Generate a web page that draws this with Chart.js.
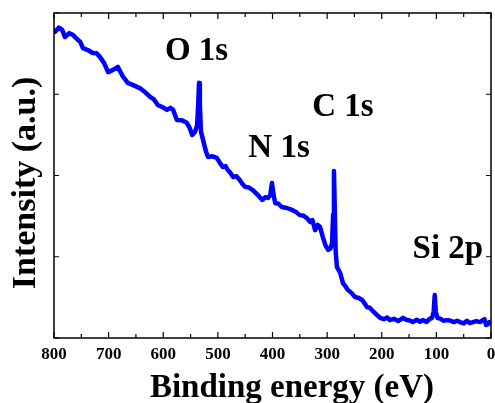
<!DOCTYPE html>
<html>
<head>
<meta charset="utf-8">
<script src="https://cdn.jsdelivr.net/npm/chart.js@4"></script>
<style>
  html, body { margin: 0; padding: 0; background: #fff; }
  #wrap { width: 495px; height: 403px; }
</style>
</head>
<body>
<div id="wrap"><canvas id="c"></canvas></div>
<script>
// ========== DATA (XPS survey) ==========
const energy = [
  800, 798, 791, 785, 780, 772, 765, 758, 752, 747, 738, 729, 722, 716, 708, 701,
  692, 683, 674, 665, 655, 643, 633, 624, 617, 610, 601, 593, 587, 582, 575, 566,
  557, 552, 547, 542, 538, 536, 534.5, 533, 531, 527, 522, 518, 510, 502, 496, 491,
  486, 482, 477, 472, 466, 460, 455, 450, 443, 436, 428, 419, 413, 408, 404, 401,
  398, 395, 389, 383, 374, 364, 357, 350, 343, 337, 331, 327, 322, 317, 313, 308,
  303, 298, 294, 291, 289, 287.5, 286, 284.5, 282, 276, 271, 266, 262, 255, 249, 242,
  236, 231, 227, 222, 218, 210, 203, 196, 190, 185, 178, 170, 161, 155, 149, 143,
  136, 130, 125, 118, 113, 108, 105, 103, 101, 98, 92, 87, 81, 75, 68, 62,
  57, 50, 44, 39, 33, 27, 20, 15, 12, 9, 6, 3, 0
];
const intensity = [
  94.5, 94.2, 95.5, 94.8, 92.6, 93.8, 93.2, 92.0, 91.1, 89.2, 88.6, 87.7, 87.6, 86.5, 84.5, 81.8,
  82.5, 83.4, 80.5, 78.5, 77.8, 76.9, 75.6, 74.2, 73.4, 71.7, 71.0, 70.2, 70.8, 70.2, 67.1, 67.0,
  66.2, 64.8, 62.5, 63.4, 65.5, 72, 78.5, 72, 63.5, 60.9, 57.5, 55.7, 55.9, 55.4, 53.8, 52.6,
  52.9, 51.7, 50.8, 49.5, 49.8, 48.6, 47.4, 46.5, 46.3, 45.5, 44.2, 42.5, 43.3, 43.1, 44, 47.7,
  44, 41.5, 41.3, 40.3, 40.0, 39.4, 38.8, 37.8, 37.6, 36.9, 35.7, 36.3, 33.2, 34.8, 34.2, 31.1,
  28.5, 27.1, 27.5, 29.2, 38, 51.4, 40, 27, 21.8, 20.0, 16.9, 15.8, 14.8, 13.8, 12.6, 12.3,
  11.7, 10.6, 9.5, 9.3, 8.6, 7.3, 6.2, 5.8, 6.3, 5.5, 5.9, 5.2, 6.2, 5.6, 5.4, 4.9,
  5.6, 5.0, 5.5, 4.9, 5.8, 6.2, 8, 13.2, 8, 6.2, 5.9, 5.3, 5.5, 5.4, 4.9, 5.3,
  4.9, 4.5, 5.3, 4.6, 4.9, 5.2, 4.9, 5.5, 5.8, 4.0, 4.2, 4.9, 4.6
];

// peak labels, anchored in data units (centre x, baseline y)
const peakNames = ['O 1s', 'C 1s', 'N 1s', 'Si 2p'];
const peakLabelX = [539, 271, 388, 79];
const peakLabelY = [85.5, 68.3, 55.7, 24.6];

const X_TITLE = 'Binding energy (eV)';
const Y_TITLE = 'Intensity (a.u.)';
const SERIF = '"Liberation Serif", "Times New Roman", serif';

// frame, inward ticks, labels and axis titles
const decorPlugin = {
  id: 'decor',
  afterDraw(chart) {
    const { ctx, chartArea: a, scales } = chart;
    const xs = scales.x, ys = scales.y;
    ctx.save();
    ctx.strokeStyle = '#000';
    ctx.lineWidth = 1.5;
    ctx.strokeRect(a.left, a.top, a.right - a.left, a.bottom - a.top);

    ctx.lineWidth = 1.2;
    ctx.beginPath();
    xs.ticks.forEach(t => {
      const px = xs.getPixelForValue(t.value);
      const len = t.value % 100 === 0 ? 6 : 4;
      ctx.moveTo(px, a.bottom); ctx.lineTo(px, a.bottom - len);
      ctx.moveTo(px, a.top); ctx.lineTo(px, a.top + len);
    });
    ys.ticks.forEach(t => {
      const py = ys.getPixelForValue(t.value);
      ctx.moveTo(a.left, py); ctx.lineTo(a.left + 5, py);
      ctx.moveTo(a.right, py); ctx.lineTo(a.right - 5, py);
    });
    ctx.stroke();

    ctx.fillStyle = '#000';
    ctx.font = 'bold 33px ' + SERIF;
    ctx.textAlign = 'center';
    ctx.textBaseline = 'alphabetic';
    peakNames.forEach((name, i) => {
      ctx.fillText(name, xs.getPixelForValue(peakLabelX[i]), ys.getPixelForValue(peakLabelY[i]));
    });

    ctx.fillText(X_TITLE, 292, 397);

    ctx.font = 'bold 34px ' + SERIF;
    ctx.translate(35, 183);
    ctx.rotate(-Math.PI / 2);
    ctx.fillText(Y_TITLE, 0, 0);
    ctx.restore();
  }
};

new Chart(document.getElementById('c'), {
  type: 'line',
  data: {
    datasets: [{
      data: energy.map((e, i) => ({ x: e, y: intensity[i] })),
      borderColor: '#0000ff',
      borderWidth: 4.5,
      borderJoinStyle: 'round',
      borderCapStyle: 'round',
      pointRadius: 0,
      tension: 0,
      fill: false,
    }],
  },
  options: {
    responsive: true,
    maintainAspectRatio: false,
    animation: false,
    layout: { padding: { top: 13, right: 4, left: 0, bottom: 0 } },
    plugins: { legend: { display: false }, tooltip: { enabled: false } },
    scales: {
      x: {
        type: 'linear',
        reverse: true,
        min: 0,
        max: 800,
        afterFit: s => { s.height = 65; s.paddingLeft = 0; s.paddingRight = 0; },
        ticks: {
          stepSize: 50,
          autoSkip: false,
          maxRotation: 0,
          padding: 6,
          color: '#000',
          font: { family: SERIF, size: 17, weight: 'bold' },
          callback: v => (v % 100 === 0 ? String(v) : ''),
        },
        grid: { display: false, drawTicks: false },
        border: { display: false },
      },
      y: {
        min: 0,
        max: 100,
        afterFit: s => { s.width = 54; s.paddingTop = 0; s.paddingBottom = 0; },
        ticks: { stepSize: 25, display: false },
        grid: { display: false, drawTicks: false },
        border: { display: false },
      },
    },
  },
  plugins: [decorPlugin],
});
</script>
</body>
</html>
